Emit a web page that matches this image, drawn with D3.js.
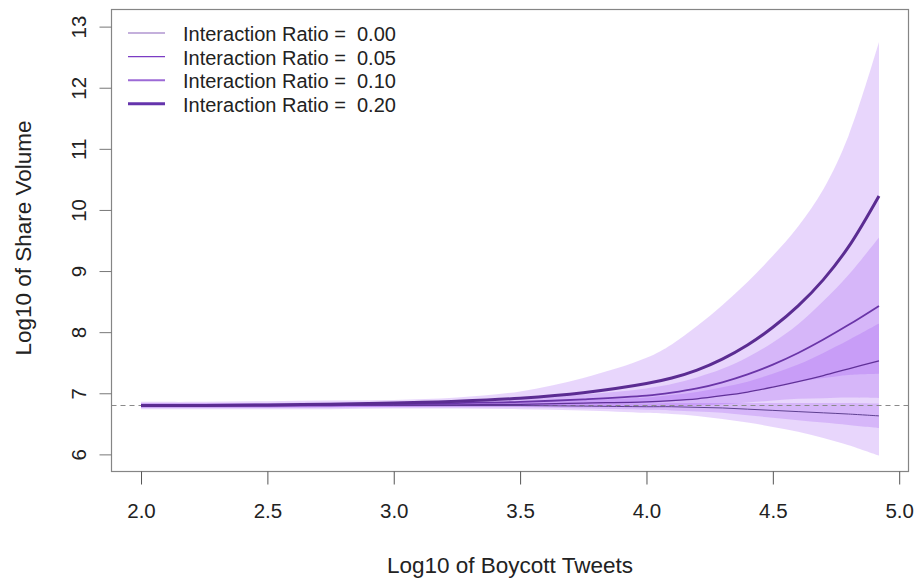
<!DOCTYPE html>
<html><head><meta charset="utf-8">
<script src="https://cdn.jsdelivr.net/npm/d3@7"></script>
<style>body{margin:0;background:#fff}svg{display:block;font-family:"Liberation Sans",Arial,sans-serif}</style>
</head><body><svg id="c" width="920" height="580"></svg>
<script>
const xs     = [2.0, 2.25, 2.5, 2.75, 3.0, 3.25, 3.5, 3.75, 4.0, 4.1, 4.2, 4.3, 4.4, 4.5, 4.6, 4.7, 4.8, 4.92];
const line00 = [6.80,6.80,6.80,6.80,6.80,6.80,6.80,6.79,6.78,6.78,6.77,6.76,6.74,6.72,6.70,6.68,6.66,6.63];
const lo00   = [6.77,6.77,6.77,6.77,6.77,6.77,6.77,6.75,6.73,6.72,6.70,6.68,6.64,6.60,6.56,6.52,6.48,6.43];
const hi00   = [6.83,6.83,6.83,6.83,6.83,6.83,6.83,6.83,6.83,6.84,6.84,6.84,6.84,6.84,6.84,6.84,6.84,6.83];
const line05 = [6.80,6.80,6.80,6.80,6.81,6.81,6.82,6.84,6.86,6.88,6.91,6.96,7.02,7.10,7.19,7.29,7.40,7.53];
const lo05   = [6.77,6.77,6.77,6.77,6.78,6.78,6.78,6.79,6.79,6.79,6.80,6.82,6.85,6.88,6.91,6.92,6.93,6.92];
const hi05   = [6.83,6.83,6.83,6.83,6.84,6.84,6.86,6.89,6.93,6.97,7.02,7.10,7.19,7.32,7.47,7.66,7.87,8.14];
const line10 = [6.80,6.80,6.80,6.81,6.82,6.84,6.86,6.90,6.96,7.01,7.08,7.18,7.31,7.47,7.66,7.88,8.12,8.43];
const lo10   = [6.76,6.76,6.76,6.77,6.78,6.79,6.80,6.82,6.84,6.87,6.90,6.96,7.03,7.11,7.19,7.25,7.30,7.32];
const hi10   = [6.84,6.84,6.84,6.85,6.86,6.89,6.92,6.98,7.08,7.15,7.26,7.40,7.59,7.83,8.13,8.51,8.94,9.55];
const line20 = [6.80,6.80,6.81,6.82,6.84,6.87,6.92,7.01,7.16,7.25,7.38,7.56,7.79,8.08,8.43,8.86,9.40,10.23];
const lo20   = [6.74,6.74,6.74,6.74,6.75,6.75,6.74,6.72,6.68,6.66,6.63,6.58,6.52,6.45,6.37,6.27,6.15,5.98];
const hi20   = [6.86,6.86,6.87,6.88,6.89,6.93,7.03,7.25,7.58,7.80,8.10,8.44,8.82,9.25,9.73,10.34,11.22,12.75];
const refLine = 6.80;
const xTicks = [2.0, 2.5, 3.0, 3.5, 4.0, 4.5, 5.0];
const yTicks = [6, 7, 8, 9, 10, 11, 12, 13];
const legendLabels = ["Interaction Ratio =  0.00","Interaction Ratio =  0.05","Interaction Ratio =  0.10","Interaction Ratio =  0.20"];

const svg = d3.select("#c");
const L = 111.5, R = 908.5, T = 9.5, B = 471.5;
const x = d3.scaleLinear().domain([1.8832, 5.0368]).range([L, R]);
const y = d3.scaleLinear().domain([5.72, 13.28]).range([B, T]);
const crv = d3.curveCatmullRom.alpha(0.5);

const bands = [[lo20,hi20],[lo10,hi10],[lo05,hi05],[lo00,hi00]];
const area = d3.area().x((d,i)=>x(xs[i])).y0(d=>y(d[0])).y1(d=>y(d[1])).curve(crv);
bands.forEach(([lo,hi])=>{
  svg.append("path").datum(lo.map((v,i)=>[v,hi[i]])).attr("d",area)
    .attr("fill","rgb(150,70,240)").attr("fill-opacity",0.22);
});

svg.append("line").attr("x1",L).attr("x2",R).attr("y1",y(refLine)).attr("y2",y(refLine))
  .attr("stroke","#8a8a8a").attr("stroke-width",1.2).attr("stroke-dasharray","5,4");

const line = d3.line().x((d,i)=>x(xs[i])).y(d=>y(d)).curve(crv);
const series = [
  {v:line00, c:"#5e4090", w:1},
  {v:line05, c:"#603098", w:1.3},
  {v:line10, c:"#6a35a8", w:1.8},
  {v:line20, c:"#5b2c92", w:3}
];
series.forEach(s=>{
  svg.append("path").datum(s.v).attr("d",line).attr("fill","none")
    .attr("stroke",s.c).attr("stroke-width",s.w);
});

// box
svg.append("rect").attr("x",L).attr("y",T).attr("width",R-L).attr("height",B-T)
  .attr("fill","none").attr("stroke","#858585").attr("stroke-width",1.2);

// x axis
const xAxis = d3.axisBottom(x).tickValues(xTicks).tickFormat(d3.format(".1f")).tickSize(13).tickPadding(19);
const gx = svg.append("g").attr("transform",`translate(0,${B})`).call(xAxis);
gx.select(".domain").remove();
gx.selectAll(".tick line").attr("stroke","#555");
gx.selectAll(".tick text").attr("font-size",20.5).attr("fill","#222").attr("font-family","Liberation Sans, Arial, sans-serif");

// y axis
const yAxis = d3.axisLeft(y).tickValues(yTicks).tickSize(12).tickFormat(d3.format("d"));
const gy = svg.append("g").attr("transform",`translate(${L},0)`).call(yAxis);
gy.select(".domain").remove();
gy.selectAll(".tick line").attr("stroke","#777");
gy.selectAll(".tick text").attr("font-size",20.5).attr("fill","#222")
  .attr("font-family","Liberation Sans, Arial, sans-serif")
  .attr("text-anchor","middle").attr("dy",null).attr("x",null)
  .attr("dominant-baseline","central")
  .attr("transform","translate(-33,0) rotate(-90)");

// titles
svg.append("text").attr("x",510).attr("y",565).attr("text-anchor","middle")
  .attr("dominant-baseline","central").attr("font-size",22.5).attr("fill","#222")
  .text("Log10 of Boycott Tweets");
svg.append("text").attr("transform","translate(23,238) rotate(-90)").attr("text-anchor","middle")
  .attr("dominant-baseline","central").attr("font-size",22.5).attr("fill","#222")
  .text("Log10 of Share Volume");

// legend
const legendStyle = [
  {c:"#c4b0dc", w:2},
  {c:"#7b3cc4", w:1.3},
  {c:"#9c6ad6", w:2},
  {c:"#6534ac", w:3}
];
legendLabels.forEach((lab,i)=>{
  const yy = 33 + i*23.6;
  svg.append("line").attr("x1",128).attr("x2",165).attr("y1",yy).attr("y2",yy)
    .attr("stroke",legendStyle[i].c).attr("stroke-width",legendStyle[i].w);
  svg.append("text").attr("x",183).attr("y",yy+1).attr("dominant-baseline","central")
    .attr("font-size",20).attr("fill","#222").attr("xml:space","preserve").style("white-space","pre")
    .text(lab);
});
</script></body></html>
